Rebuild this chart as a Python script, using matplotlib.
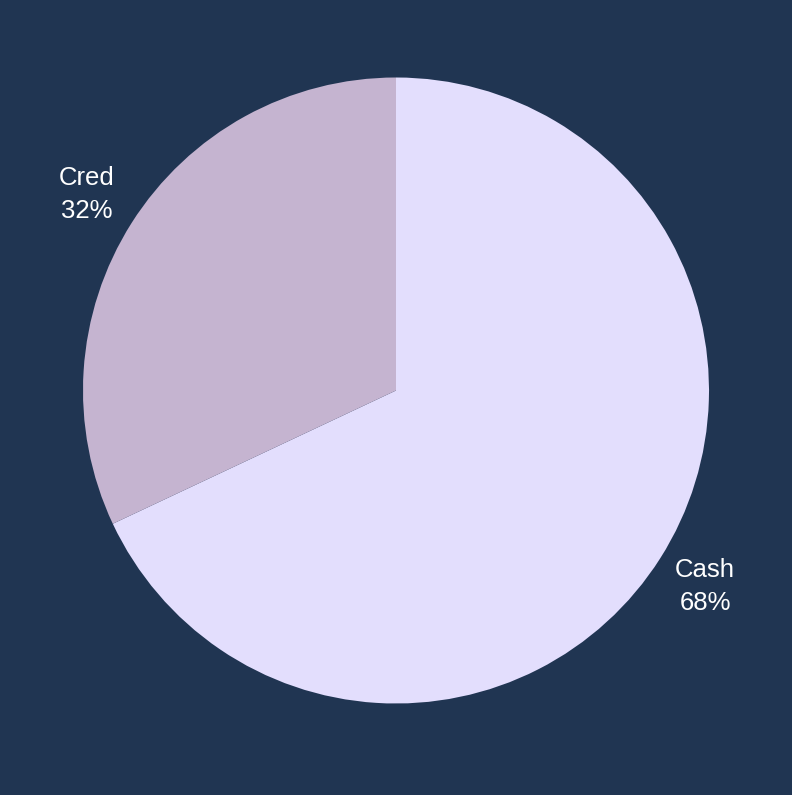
import matplotlib.pyplot as plt

labels = ['Cash', 'Cred']
values = [68, 32]
colors = ['#e3defd', '#c5b4d0']
bg = '#203552'

fig = plt.figure(figsize=(7.92, 7.95), dpi=100, facecolor=bg)
ax = fig.add_axes([83 / 792, 91.5 / 795, 626 / 792, 626 / 795])
ax.set_facecolor(bg)

wedges, texts = ax.pie(values, labels=[f'{l}\n{v}%' for l, v in zip(labels, values)],
                       colors=colors, startangle=90, counterclock=False,
                       labeldistance=1.17,
                       textprops=dict(color='white', fontsize=18.5, family='Liberation Sans',
                                      linespacing=1.5))
for t in texts:
    t.set_horizontalalignment('center')
    t.set_verticalalignment('center')

ax.set_xlim(-1, 1)
ax.set_ylim(-1, 1)

fig.savefig('out.png', dpi=100, facecolor=bg)
